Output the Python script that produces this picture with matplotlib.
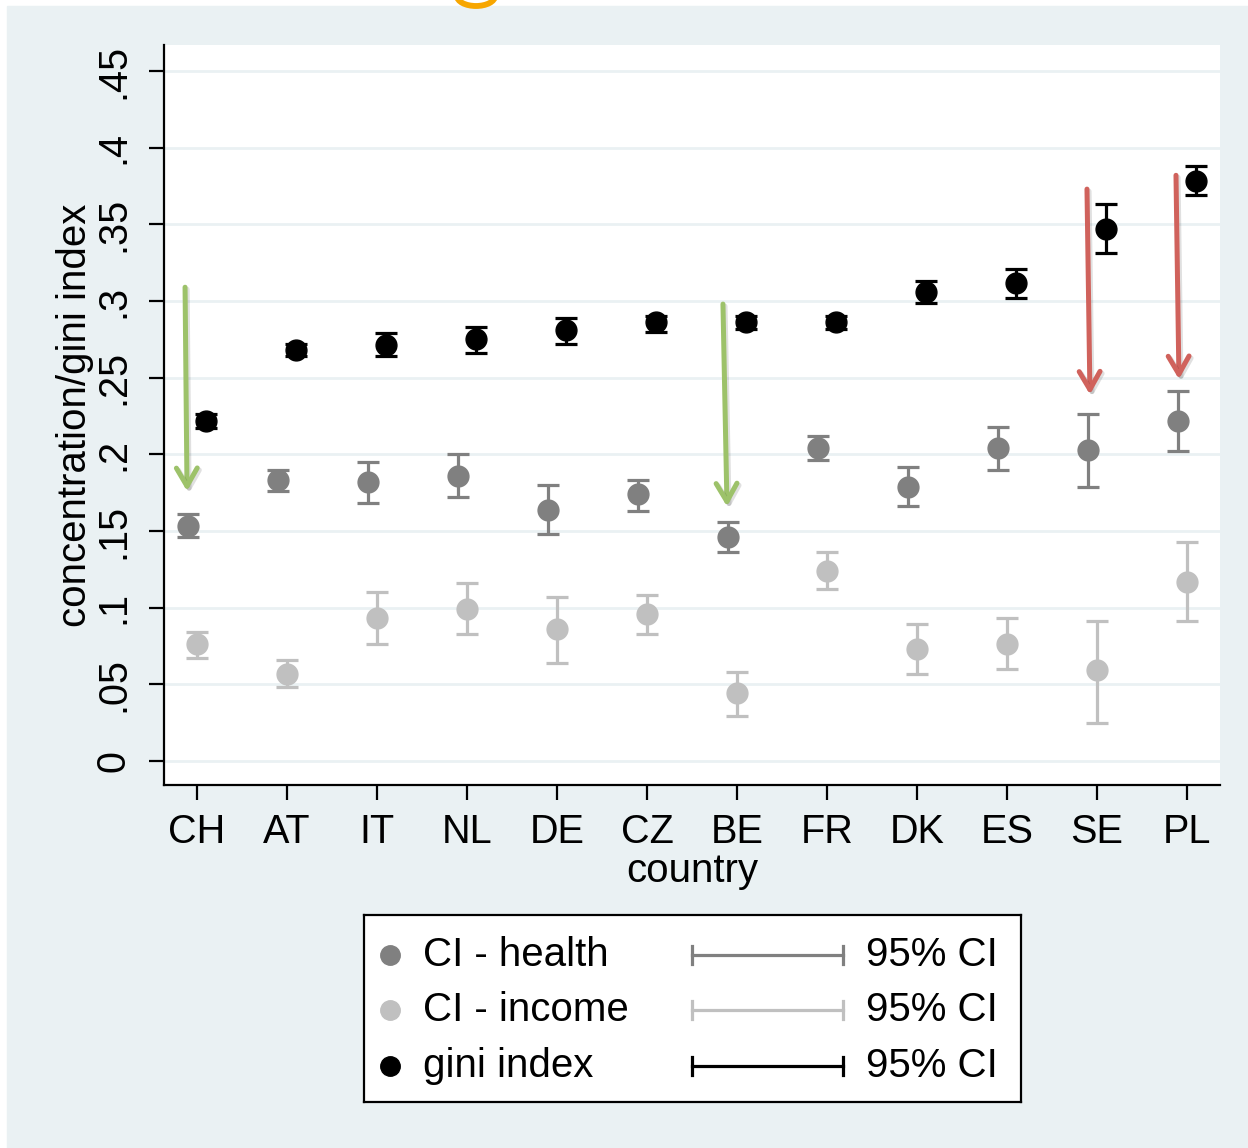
import numpy as np
import matplotlib
matplotlib.use("Agg")
import matplotlib.pyplot as plt
import matplotlib.patches as mpatches
import matplotlib.patheffects as pe

plt.rcParams['font.family'] = ['Liberation Sans', 'DejaVu Sans']

countries = ['CH', 'AT', 'IT', 'NL', 'DE', 'CZ', 'BE', 'FR', 'DK', 'ES', 'SE', 'PL']

health = [0.153, 0.183, 0.182, 0.186, 0.164, 0.174, 0.146, 0.204, 0.179, 0.204, 0.203, 0.222]
health_lo = [0.146, 0.176, 0.168, 0.172, 0.148, 0.163, 0.136, 0.196, 0.166, 0.190, 0.179, 0.202]
health_hi = [0.161, 0.190, 0.195, 0.200, 0.180, 0.183, 0.156, 0.212, 0.192, 0.218, 0.226, 0.241]

income = [0.076, 0.057, 0.093, 0.099, 0.086, 0.096, 0.044, 0.124, 0.073, 0.076, 0.059, 0.117]
income_lo = [0.067, 0.048, 0.076, 0.083, 0.064, 0.083, 0.029, 0.112, 0.057, 0.060, 0.025, 0.091]
income_hi = [0.084, 0.066, 0.110, 0.116, 0.107, 0.108, 0.058, 0.136, 0.089, 0.093, 0.091, 0.143]

gini = [0.222, 0.268, 0.271, 0.275, 0.281, 0.286, 0.286, 0.286, 0.306, 0.312, 0.347, 0.378]
gini_lo = [0.217, 0.264, 0.264, 0.266, 0.272, 0.280, 0.282, 0.282, 0.299, 0.302, 0.331, 0.369]
gini_hi = [0.226, 0.272, 0.279, 0.283, 0.289, 0.290, 0.290, 0.290, 0.313, 0.321, 0.363, 0.388]

# annotation arrows: (x start, y start, x tip, y tip, colour)
arrows = [
    (0.867, 0.309, 0.889, 0.176, '#9DC26A'),
    (6.844, 0.298, 6.889, 0.166, '#9DC26A'),
    (10.889, 0.373, 10.922, 0.239, '#D0625C'),
    (11.878, 0.382, 11.911, 0.249, '#D0625C'),
]

BG = '#EAF1F3'
DARK = '#808080'
LIGHT = '#C0C0C0'

fig = plt.figure(figsize=(12.48, 11.48), dpi=100, facecolor='white')
fig.add_artist(mpatches.Rectangle((7 / 1248, 0), 1, 1 - 6 / 1148,
                                  transform=fig.transFigure, color=BG, zorder=-10))
fig.add_artist(mpatches.Ellipse((476 / 1248, 1 + 4 / 1148), 38 / 1248, 20 / 1148,
                                transform=fig.transFigure, fill=False,
                                ec='#F7A600', lw=4.2, zorder=5))

ax = fig.add_axes([164 / 1248, 363 / 1148, 1056 / 1248, 740 / 1148])
ax.set_facecolor('white')

x = np.arange(1, len(countries) + 1)
series = [
    (health, health_lo, health_hi, DARK, -0.1),
    (income, income_lo, income_hi, LIGHT, 0.0),
    (gini, gini_lo, gini_hi, 'black', 0.1),
]
for vals, lo, hi, col, off in series:
    vals = np.array(vals)
    yerr = [vals - np.array(lo), np.array(hi) - vals]
    ax.errorbar(x + off, vals, yerr=yerr, fmt='o', color=col, ms=15,
                ecolor=col, elinewidth=2.3, capsize=8, capthick=2.3, zorder=3)

for x0, y0, x1, y1, col in arrows:
    ax.annotate('', xy=(x1, y1), xytext=(x0, y0),
                arrowprops=dict(arrowstyle='->,head_length=1.3,head_width=0.75',
                                color=col, lw=3.6, shrinkA=0, shrinkB=0,
                                path_effects=[pe.SimpleLineShadow(offset=(1.5, -1.5), alpha=0.12),
                                              pe.Normal()]),
                zorder=4)

ax.set_xlim(0.633, 12.367)
ax.set_ylim(-0.0157, 0.467)
yt = np.arange(0, 0.451, 0.05)
ax.set_yticks(yt)
ax.set_yticklabels(['0'] + [('%.2f' % v).lstrip('0').rstrip('0') for v in yt[1:]],
                   rotation=90, va='center')
ax.set_xticks(x)
ax.set_xticklabels(countries)
ax.grid(axis='y', color=BG, lw=2.0, zorder=0)
ax.set_axisbelow(True)
for s in ['top', 'right']:
    ax.spines[s].set_visible(False)
for s in ['left', 'bottom']:
    ax.spines[s].set_linewidth(1.6)
ax.tick_params(axis='both', length=11, width=1.6, labelsize=28.5)
ax.tick_params(axis='y', pad=12)
ax.tick_params(axis='x', pad=9)
ax.set_xlabel('country', fontsize=29, labelpad=1)
ax.set_ylabel('concentration/gini index', fontsize=29, labelpad=0)

# legend box
lax = fig.add_axes([364 / 1248, 46 / 1148, 657 / 1248, 187 / 1148])
lax.set_xlim(0, 657)
lax.set_ylim(187, 0)
lax.set_xticks([])
lax.set_yticks([])
lax.set_facecolor('white')
for s in lax.spines.values():
    s.set_linewidth(1.6)
leg_rows = [('CI - health', DARK, 40), ('CI - income', LIGHT, 95), ('gini index', 'black', 151)]
for lab, col, yy in leg_rows:
    lax.plot([26], [yy], 'o', color=col, ms=14)
    lax.text(59, yy, lab, fontsize=29, va='center', ha='left')
    lax.plot([328, 479], [yy, yy], color=col, lw=2.3)
    lax.plot([328, 328], [yy - 9, yy + 9], color=col, lw=2.3)
    lax.plot([479, 479], [yy - 9, yy + 9], color=col, lw=2.3)
    lax.text(502, yy, '95% CI', fontsize=29, va='center', ha='left')

fig.savefig('out.png', dpi=100, facecolor=fig.get_facecolor())
